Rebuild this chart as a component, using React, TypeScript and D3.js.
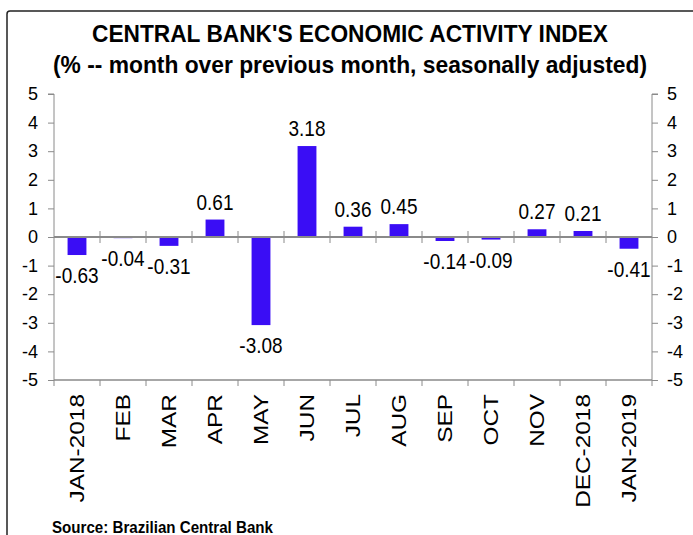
import { useEffect, useRef } from 'react'
import * as d3 from 'd3'

const months = ['JAN-2018', 'FEB', 'MAR', 'APR', 'MAY', 'JUN', 'JUL', 'AUG', 'SEP', 'OCT', 'NOV', 'DEC-2018', 'JAN-2019']
const changes = [-0.63, -0.04, -0.31, 0.61, -3.08, 3.18, 0.36, 0.45, -0.14, -0.09, 0.27, 0.21, -0.41]
const yTicks = [5, 4, 3, 2, 1, 0, -1, -2, -3, -4, -5]

const title = "CENTRAL BANK'S ECONOMIC ACTIVITY INDEX"
const subtitle = '(% -- month over previous month, seasonally adjusted)'
const source = 'Source: Brazilian Central Bank'

export default function App() {
  const svgRef = useRef<SVGSVGElement>(null)

  useEffect(() => {
    if (!svgRef.current) return
    const svg = d3.select(svgRef.current)
    svg.selectAll('*').remove()

    const W = 693
    const H = 535
    const left = 54
    const right = 652
    const top = 94
    const bottom = 380
    const axisColor = '#8a8a8a'
    const font = 'Liberation Sans, Arial, sans-serif'
    const narrow = "'Liberation Sans Narrow', 'Arial Narrow', Liberation Sans, Arial, sans-serif"
    const fmt = (d: number) => String(d) // plain hyphen, not unicode minus

    svg.attr('width', W).attr('height', H)

    svg.append('rect').attr('width', W).attr('height', H).attr('fill', '#fff')

    // frame
    svg.append('rect')
      .attr('x', 7).attr('y', 11)
      .attr('width', 720).attr('height', 600)
      .attr('rx', 3)
      .attr('fill', 'none')
      .attr('stroke', '#222')
      .attr('stroke-width', 1.5)

    // titles
    svg.append('text')
      .attr('x', 350).attr('y', 42)
      .attr('text-anchor', 'middle')
      .attr('font-family', narrow)
      .attr('font-weight', 'bold')
      .attr('font-size', 24)
      .attr('textLength', 516)
      .attr('lengthAdjust', 'spacingAndGlyphs')
      .text(title)

    svg.append('text')
      .attr('x', 350).attr('y', 73)
      .attr('text-anchor', 'middle')
      .attr('font-family', narrow)
      .attr('font-weight', 'bold')
      .attr('font-size', 24)
      .attr('textLength', 594)
      .attr('lengthAdjust', 'spacingAndGlyphs')
      .text(subtitle)

    const x = d3.scaleBand<string>()
      .domain(months)
      .range([left, right])
      .paddingInner(0.59)
      .paddingOuter(0.295)

    const y = d3.scaleLinear().domain([-5, 5]).range([bottom, top])
    const step = x.step()

    const g = svg.append('g')

    // left axis
    const yLeft = d3.axisLeft(y).tickValues(yTicks).tickSize(6).tickPadding(10).tickFormat((d) => fmt(d as number))
    const gl = g.append('g').attr('transform', `translate(${left},0)`).call(yLeft)
    gl.select('.domain').attr('stroke', axisColor).attr('d', `M-6,${top}H0V${bottom}`)
    gl.selectAll('line').attr('stroke', axisColor)
    gl.selectAll('text').attr('font-size', 18).attr('font-family', font).attr('fill', '#000')

    // right axis
    const yRight = d3.axisRight(y).tickValues(yTicks).tickSize(6).tickPadding(9).tickFormat((d) => fmt(d as number))
    const gr = g.append('g').attr('transform', `translate(${right},0)`).call(yRight)
    gr.select('.domain').attr('stroke', axisColor).attr('d', `M6,${top}H0V${bottom}`)
    gr.selectAll('line').attr('stroke', axisColor)
    gr.selectAll('text').attr('font-size', 18).attr('font-family', font).attr('fill', '#000')

    // bottom axis line at -5
    g.append('line')
      .attr('x1', left).attr('x2', right)
      .attr('y1', bottom).attr('y2', bottom)
      .attr('stroke', axisColor).attr('stroke-width', 1.5)

    const boundaries = d3.range(months.length + 1).map((i) => left + i * step)
    boundaries.forEach((bx) => {
      g.append('line')
        .attr('x1', bx).attr('x2', bx)
        .attr('y1', bottom).attr('y2', bottom + 6)
        .attr('stroke', axisColor)
    })

    // bars
    g.selectAll('rect.bar')
      .data(changes)
      .join('rect')
      .attr('class', 'bar')
      .attr('x', (_, i) => x(months[i]) as number)
      .attr('width', x.bandwidth())
      .attr('y', (d) => y(Math.max(0, d)))
      .attr('height', (d) => Math.abs(y(d) - y(0)))
      .attr('fill', '#3a0df5')

    // zero line
    g.append('line')
      .attr('x1', left).attr('x2', right)
      .attr('y1', y(0)).attr('y2', y(0))
      .attr('stroke', axisColor).attr('stroke-width', 2)

    boundaries.slice(1, -1).forEach((bx) => {
      g.append('line')
        .attr('x1', bx).attr('x2', bx)
        .attr('y1', y(0) - 6).attr('y2', y(0) + 6)
        .attr('stroke', axisColor)
    })

    // value labels (source image is slightly stretched vertically)
    g.selectAll('text.val')
      .data(changes)
      .join('text')
      .attr('class', 'val')
      .attr('transform', (d, i) => {
        const cx = (x(months[i]) as number) + x.bandwidth() / 2
        const ty = d >= 0 ? y(d) - 10 : y(d) + 28
        return `translate(${cx},${ty}) scale(1,1.12)`
      })
      .attr('text-anchor', 'middle')
      .attr('font-family', font)
      .attr('font-size', 19)
      .attr('fill', '#000')
      .text((d) => d.toFixed(2))

    // category labels
    g.selectAll('text.cat')
      .data(months)
      .join('text')
      .attr('class', 'cat')
      .attr('transform', (d) => `translate(${(x(d) as number) + x.bandwidth() / 2 + 7},${bottom + 14}) rotate(-90) scale(1.22,1)`)
      .attr('text-anchor', 'end')
      .attr('font-family', font)
      .attr('font-size', 20)
      .attr('fill', '#000')
      .text((d) => d)

    // source
    svg.append('text')
      .attr('x', 52).attr('y', 533)
      .attr('font-family', narrow)
      .attr('font-weight', 'bold')
      .attr('font-size', 16)
      .attr('textLength', 221)
      .attr('lengthAdjust', 'spacingAndGlyphs')
      .text(source)
  }, [])

  return (
    <div style={{ position: 'absolute', left: 0, top: 0 }}>
      <svg ref={svgRef} style={{ display: 'block' }} />
    </div>
  )
}
